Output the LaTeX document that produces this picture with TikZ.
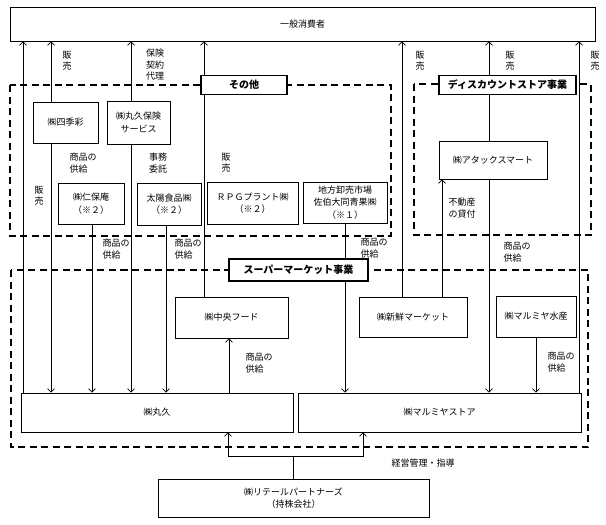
\documentclass[tikz,border=0pt]{standalone}
\usepackage{fontspec}
\setmainfont{Noto Sans CJK JP}
\usetikzlibrary{arrows.meta}

\begin{document}
\begin{tikzpicture}[x=1pt,y=-1pt,
    box/.style={draw,line width=0.7pt,align=center,inner sep=2pt,
      font=\fontsize{9}{12.5}\selectfont},
    title/.style={draw,line width=1.6pt,fill=white,inner sep=1pt,
      font=\fontsize{10}{12}\selectfont\bfseries},
    area/.style={line width=2pt,dash pattern=on 7pt off 4.5pt},
    lbl/.style={align=left,inner sep=0pt,font=\fontsize{9}{11.5}\selectfont},
    link/.style={line width=0.7pt},
    arr/.style={link,-{Straight Barb[length=3.5pt,width=7pt]}}]
  \useasboundingbox (0,0) rectangle (606,525);

  % business areas
  \draw[area] (10,85) rectangle (391,236);
  \draw[area] (414,84) rectangle (591,235);
  \draw[area] (11,270) rectangle (588,447);

  % companies
  \node[box,minimum width=585,minimum height=34] (consumer) at (302.5,24) {一般消費者};
  \node[box,minimum width=65,minimum height=41] (shikisai) at (65.5,122.5) {㈱四季彩};
  \node[box,minimum width=63,minimum height=43] (hoken) at (138.5,122.5) {㈱丸久保険\\サービス};
  \node[box,minimum width=66,minimum height=41] (niho) at (91,203.5) {㈱仁保庵\\（※２）};
  \node[box,minimum width=64,minimum height=42] (taiyo) at (169,204) {太陽食品㈱\\（※２）};
  \node[box,minimum width=91,minimum height=42] (rpg) at (252.5,203) {ＲＰＧプラント㈱\\（※２）};
  \node[box,minimum width=84,minimum height=41] (saiki) at (345,202.5) {地方卸売市場\\佐伯大同青果㈱\\（※１）};
  \node[box,minimum width=108,minimum height=38] (attack) at (493,160) {㈱アタックスマート};
  \node[box,minimum width=113,minimum height=41] (chuo) at (231.5,317.5) {㈱中央フード};
  \node[box,minimum width=108,minimum height=40] (shinsen) at (413,317) {㈱新鮮マーケット};
  \node[box,minimum width=80,minimum height=41] (suisan) at (536,316.5) {㈱マルミヤ水産};
  \node[box,minimum width=272,minimum height=39] (maruhisa) at (157,412.5) {㈱丸久};
  \node[box,minimum width=283,minimum height=39] (store) at (439.5,412.5) {㈱マルミヤストア};
  \node[box,minimum width=271,minimum height=38] (retail) at (293.5,498) {㈱リテールパートナーズ\\（持株会社）};

  % connector columns
  \coordinate (c23) at (23,0);
  \coordinate (c51) at (51,0);
  \coordinate (c92) at (92,0);
  \coordinate (c131) at (131,0);
  \coordinate (c166) at (166,0);
  \coordinate (c204) at (204,0);
  \coordinate (c229) at (229,0);
  \coordinate (c345) at (345,0);
  \coordinate (c402) at (402,0);
  \coordinate (c442) at (442,0);
  \coordinate (c489) at (489,0);
  \coordinate (c536) at (536,0);
  \coordinate (c579) at (579,0);
  \coordinate (c228) at (228,0);
  \coordinate (c363) at (363,0);
  \coordinate (hub) at (293.5,456);

  \draw[arr] (maruhisa.north -| c23) -- (consumer.south -| c23);
  \draw[arr] (shikisai.north -| c51) -- (consumer.south -| c51);
  \draw[arr] (shikisai.south -| c51) -- (maruhisa.north -| c51);
  \draw[arr] (niho.south -| c92) -- (maruhisa.north -| c92);
  \draw[arr] (hoken.north -| c131) -- (consumer.south -| c131);
  \draw[arr] (hoken.south -| c131) -- (maruhisa.north -| c131);
  \draw[arr] (taiyo.south -| c166) -- (maruhisa.north -| c166);
  \draw[arr] (chuo.north -| c204) -- (consumer.south -| c204);
  \draw[arr] (maruhisa.north -| c229) -- (chuo.south -| c229);
  \draw[arr] (saiki.south -| c345) -- (store.north -| c345);
  \draw[arr] (shinsen.north -| c402) -- (consumer.south -| c402);
  \draw[arr] (shinsen.north -| c442) -- (attack.south -| c442);
  \draw[arr] (attack.north -| c489) -- (consumer.south -| c489);
  \draw[arr] (attack.south -| c489) -- (store.north -| c489);
  \draw[arr] (suisan.south -| c536) -- (store.north -| c536);
  \draw[arr] (store.north -| c579) -- (consumer.south -| c579);
  \draw[arr] (retail.north) |- (c228 |- hub) -- (maruhisa.south -| c228);
  \draw[arr] (retail.north) |- (c363 |- hub) -- (store.south -| c363);

  % area titles
  \node[title,minimum width=86,minimum height=19] (other) at (244,85) {その他};
  \node[title,minimum width=137,minimum height=19] (discount) at (507.5,85) {ディスカウントストア事業};
  \node[title,minimum width=139,minimum height=22] (super) at (298.5,270) {スーパーマーケット事業};

  % labels
  \node[lbl] (l1) at (67,61) {販\\売};
  \node[lbl] (l2) at (155,65) {保険\\契約\\代理};
  \node[lbl] (l3) at (420,61) {販\\売};
  \node[lbl] (l4) at (510,61) {販\\売};
  \node[lbl] (l5) at (595,61) {販\\売};
  \node[lbl] (l6) at (39,196) {販\\売};
  \node[lbl] (l7) at (83,163) {商品の\\供給};
  \node[lbl] (l8) at (158,163) {事務\\委託};
  \node[lbl] (l9) at (226,163) {販\\売};
  \node[lbl] (l10) at (116,249) {商品の\\供給};
  \node[lbl] (l11) at (188,249) {商品の\\供給};
  \node[lbl] (l12) at (374,248) {商品の\\供給};
  \node[lbl] (l13) at (462,208) {不動産\\の貸付};
  \node[lbl] (l14) at (517,252) {商品の\\供給};
  \node[lbl] (l15) at (259,363) {商品の\\供給};
  \node[lbl] (l16) at (561,362) {商品の\\供給};
  \node[lbl] (l17) at (423,463) {経営管理・指導};
\end{tikzpicture}
\end{document}
